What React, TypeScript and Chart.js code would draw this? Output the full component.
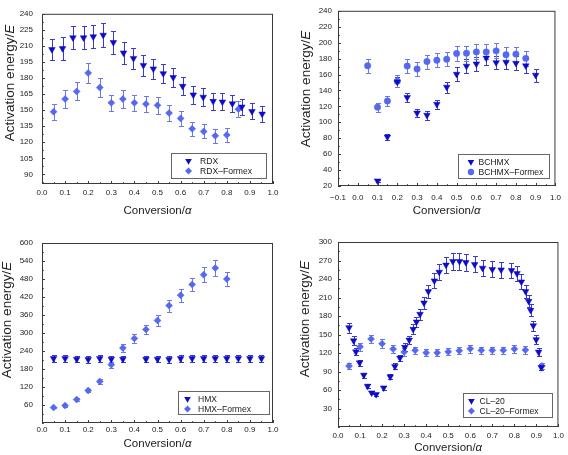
import React, { useEffect, useRef } from "react";
import { Chart, registerables } from "chart.js";
Chart.register(...registerables);

const FONT = '"Liberation Sans", Arial, Helvetica, sans-serif';

// ---------------- RDX ----------------
const rdxConv = [0.043, 0.089, 0.134, 0.18, 0.222, 0.265, 0.309, 0.353, 0.396, 0.439, 0.482, 0.525, 0.568, 0.609, 0.655, 0.698, 0.741, 0.781, 0.824, 0.865, 0.909, 0.953];
const rdxEnergy = [206.7, 207.6, 217.7, 217.7, 218.6, 220.1, 213.3, 203.5, 198.4, 191.9, 188.6, 184.2, 180.6, 172.3, 164.3, 162.2, 158.3, 157.7, 156.0, 153.0, 148.8, 146.4];
const rdxError = [10.2, 10.4, 11, 11, 11, 11.3, 10.7, 10.2, 9.9, 9.6, 9.4, 9.2, 9.0, 8.6, 8.2, 8.1, 7.9, 7.9, 7.8, 7.6, 7.5, 7.4];
const rdxFormexConv = [0.05, 0.1, 0.15, 0.2, 0.25, 0.3, 0.35, 0.4, 0.45, 0.5, 0.55, 0.6, 0.65, 0.7, 0.75, 0.8, 0.85];
const rdxFormexEnergy = [148.5, 160.4, 167.5, 184.8, 171.1, 156.8, 160.4, 156.8, 155.7, 154.5, 147.3, 142.3, 132.5, 130.1, 126.0, 126.8, 150.9];
const rdxFormexError = [7.6, 8.0, 8.4, 9.3, 8.6, 7.8, 8.0, 7.8, 7.8, 7.7, 7.4, 7.1, 6.6, 6.5, 6.3, 6.3, 7.5];
const rdxYTicks = [90, 105, 120, 135, 150, 165, 180, 195, 210, 225, 240];

// ---------------- BCHMX ----------------
const bchmxConv = [0.1, 0.15, 0.2, 0.25, 0.3, 0.35, 0.4, 0.45, 0.5, 0.55, 0.6, 0.65, 0.7, 0.75, 0.8, 0.85, 0.9];
const bchmxEnergy = [26.5, 81.7, 150.7, 131.2, 111.7, 108.9, 122.7, 144.2, 160.4, 170.6, 173.4, 180.7, 175.0, 175.5, 174.2, 171.0, 159.2];
const bchmxError = [1.5, 3.5, 6.5, 6.0, 5.0, 5.5, 5.7, 7.0, 8.5, 8.5, 8.6, 9.0, 8.7, 8.7, 8.7, 8.5, 8.0];
const bchmxFormexConv = [0.05, 0.1, 0.15, 0.2, 0.25, 0.3, 0.35, 0.4, 0.45, 0.5, 0.55, 0.6, 0.65, 0.7, 0.75, 0.8, 0.85];
const bchmxFormexEnergy = [171.0, 119.0, 126.7, 151.5, 170.6, 167.0, 176.3, 177.9, 179.1, 186.4, 186.8, 188.4, 188.4, 189.7, 184.8, 185.6, 180.3];
const bchmxFormexError = [8.5, 5.8, 6.3, 7.5, 8.5, 8.3, 8.8, 8.9, 9.0, 9.3, 9.3, 9.4, 9.4, 9.5, 9.2, 9.3, 9.0];
const bchmxXTicks = [-0.1, 0, 0.1, 0.2, 0.3, 0.4, 0.5, 0.6, 0.7, 0.8, 0.9, 1.0];
const bchmxYTicks = [20, 40, 60, 80, 100, 120, 140, 160, 180, 200, 220, 240];

// ---------------- HMX ----------------
const hmxConv = [0.05, 0.1, 0.15, 0.2, 0.25, 0.3, 0.35, 0.45, 0.5, 0.55, 0.6, 0.65, 0.7, 0.75, 0.8, 0.85, 0.9, 0.95];
const hmxEnergy = [215, 215, 213, 212, 215, 213, 213, 213, 213, 212, 215, 215, 215, 215, 215, 215, 215, 215];
const hmxError = [11, 11, 11, 11, 11, 11, 11, 11, 11, 11, 11, 11, 11, 11, 11, 11, 11, 11];
const hmxFormexConv = [0.05, 0.1, 0.15, 0.2, 0.25, 0.3, 0.35, 0.4, 0.45, 0.5, 0.55, 0.6, 0.65, 0.7, 0.75, 0.8];
const hmxFormexEnergy = [51.4, 58.0, 78.0, 108.5, 138.6, 194.5, 250.4, 281.8, 312.0, 342.0, 391.3, 426.0, 461.8, 494.0, 516.5, 479.7];
const hmxFormexError = [3, 3.5, 4, 5, 7, 10, 13, 15, 16, 18, 20, 21, 23, 25, 27, 24];
const hmxYTicks = [60, 120, 180, 240, 300, 360, 420, 480, 540, 600];

// ---------------- CL-20 ----------------
const cl20Conv = [0.05, 0.071, 0.081, 0.098, 0.117, 0.134, 0.153, 0.173, 0.207, 0.237, 0.258, 0.281, 0.303, 0.323, 0.341, 0.356, 0.372, 0.39, 0.41, 0.437, 0.459, 0.49, 0.521, 0.551, 0.58, 0.62, 0.656, 0.7, 0.74, 0.787, 0.812, 0.832, 0.851, 0.865, 0.874, 0.886, 0.899, 0.91, 0.922];
const cl20Energy = [161.2, 140.0, 122.0, 104.3, 84.2, 66.3, 55.5, 52.8, 63.6, 81.5, 98.3, 111.9, 129.3, 141.1, 158.5, 170.4, 182.9, 201.3, 219.7, 237.1, 251.2, 262.7, 268.6, 268.6, 267.0, 263.6, 257.7, 255.5, 254.9, 253.9, 249.0, 235.4, 219.7, 204.0, 189.4, 164.4, 141.7, 121.6, 96.7];
const cl20Error = [8, 7, 6, 5, 4, 3, 2.5, 2.5, 3, 4, 5, 5.5, 6.5, 7, 8, 8.5, 9, 10, 11, 12, 12.5, 13, 13.5, 13.5, 13.5, 13, 13, 13, 13, 12.5, 12.5, 12, 11, 10, 9.5, 8, 7, 6, 5];
const cl20FormexConv = [0.05, 0.1, 0.15, 0.2, 0.25, 0.3, 0.35, 0.4, 0.45, 0.5, 0.55, 0.6, 0.65, 0.7, 0.75, 0.8, 0.85, 0.925];
const cl20FormexEnergy = [98.9, 130.3, 142.8, 135.2, 126.5, 121.6, 124.3, 120.5, 120.5, 122.2, 123.8, 127.0, 124.3, 124.3, 124.3, 126.5, 124.9, 99.0];
const cl20FormexError = [5.5, 6.5, 7, 7, 6.5, 6, 6, 6, 6, 6, 6, 6.5, 6, 6, 6, 6.5, 6, 5];
const cl20YTicks = [30, 60, 90, 120, 150, 180, 210, 240, 270, 300];

const xTicks01 = [0, 0.1, 0.2, 0.3, 0.4, 0.5, 0.6, 0.7, 0.8, 0.9, 1.0];

// styles
const TRI_COLOR = "#0c0cc8";
const TRI_ERR = "#3a3ad0";
const FX_COLOR = "#5568f0";
const FX_ERR = "#6d78ee";

type Series = { label: string; xs: number[]; ys: number[]; errs: number[]; shape: "tri" | "diamond" | "circle" };

type Panel = {
  pos: { left: number; top: number; width: number; height: number };
  area: { l: number; r: number; t: number; b: number };
  xMin: number; xMax: number; yMin: number; yMax: number;
  xTicks: number[]; yTicks: number[]; xMinor: number; yMinor: number;
  series: Series[];
  xPad: number; yPad: number;
  xTitleY: number; yTitleX: number; yTitleY: number;
  legend: { w: number; h: number; right: number; bottom: number; mk: number; tx: number };
};

const panels: Panel[] = [
  {
    pos: { left: 0, top: 0, width: 284, height: 225 },
    area: { l: 42, r: 273, t: 5, b: 184 },
    xMin: 0, xMax: 1, yMin: 81, yMax: 240,
    xTicks: xTicks01, yTicks: rdxYTicks, xMinor: 0.05, yMinor: 7.5,
    series: [
      { label: "RDX", xs: rdxConv, ys: rdxEnergy, errs: rdxError, shape: "tri" },
      { label: "RDX\u2013Formex", xs: rdxFormexConv, ys: rdxFormexEnergy, errs: rdxFormexError, shape: "diamond" },
    ],
    xPad: 4, yPad: 9, xTitleY: 210.5, yTitleX: 10, yTitleY: 83,
    legend: { w: 95, h: 25, right: 7, bottom: 6, mk: 17.5, tx: 29 },
  },
  {
    pos: { left: 284, top: 0, width: 284, height: 225 },
    area: { l: 54, r: 276, t: 5, b: 186 },
    xMin: -0.1, xMax: 1, yMin: 20, yMax: 240,
    xTicks: bchmxXTicks, yTicks: bchmxYTicks, xMinor: 0.05, yMinor: 10,
    series: [
      { label: "BCHMX", xs: bchmxConv, ys: bchmxEnergy, errs: bchmxError, shape: "tri" },
      { label: "BCHMX\u2013Formex", xs: bchmxFormexConv, ys: bchmxFormexEnergy, errs: bchmxFormexError, shape: "circle" },
    ],
    xPad: 7, yPad: 6, xTitleY: 210.5, yTitleX: 22, yTitleY: 89,
    legend: { w: 91, h: 24, right: 6, bottom: 8, mk: 12.5, tx: 20 },
  },
  {
    pos: { left: 0, top: 225, width: 284, height: 230 },
    area: { l: 42, r: 273, t: 18, b: 198 },
    xMin: 0, xMax: 1, yMin: 0, yMax: 600,
    xTicks: xTicks01, yTicks: hmxYTicks, xMinor: 0.05, yMinor: 30,
    series: [
      { label: "HMX", xs: hmxConv, ys: hmxEnergy, errs: hmxError, shape: "tri" },
      { label: "HMX\u2013Formex", xs: hmxFormexConv, ys: hmxFormexEnergy, errs: hmxFormexError, shape: "diamond" },
    ],
    xPad: 2, yPad: 9, xTitleY: 219, yTitleX: 7, yTitleY: 95,
    legend: { w: 91, h: 23, right: 4, bottom: 9, mk: 9.5, tx: 20 },
  },
  {
    pos: { left: 284, top: 225, width: 284, height: 230 },
    area: { l: 54, r: 276, t: 17, b: 202 },
    xMin: 0, xMax: 1, yMin: 0, yMax: 300,
    xTicks: xTicks01, yTicks: cl20YTicks, xMinor: 0.05, yMinor: 15,
    series: [
      { label: "CL\u201320", xs: cl20Conv, ys: cl20Energy, errs: cl20Error, shape: "tri" },
      { label: "CL\u201320\u2013Formex", xs: cl20FormexConv, ys: cl20FormexEnergy, errs: cl20FormexError, shape: "diamond" },
    ],
    xPad: 4, yPad: 6, xTitleY: 222.5, yTitleX: 21, yTitleY: 94,
    legend: { w: 89, h: 24, right: 6, bottom: 10, mk: 8, tx: 16 },
  },
];

function drawMarker(ctx: CanvasRenderingContext2D, shape: string, x: number, y: number) {
  ctx.beginPath();
  if (shape === "tri") {
    const r = 3.8;
    ctx.moveTo(x - r * 0.87, y - r * 0.5);
    ctx.lineTo(x + r * 0.87, y - r * 0.5);
    ctx.lineTo(x, y + r);
    ctx.closePath();
    ctx.fillStyle = TRI_COLOR;
  } else if (shape === "circle") {
    ctx.arc(x, y, 3.2, 0, Math.PI * 2);
    ctx.fillStyle = FX_COLOR;
  } else {
    const r = 3.5;
    ctx.moveTo(x, y - r);
    ctx.lineTo(x + r, y);
    ctx.lineTo(x, y + r);
    ctx.lineTo(x - r, y);
    ctx.closePath();
    ctx.fillStyle = FX_COLOR;
  }
  ctx.fill();
}

function fmtX(v: number) {
  const s = Math.abs(v).toFixed(1);
  return v < -1e-9 ? "\u2212" + s : s;
}

function makePlugin(p: Panel) {
  return {
    id: "panelDecor",
    beforeDatasetsDraw(chart: any) {
      const ctx = chart.ctx as CanvasRenderingContext2D;
      const xs = chart.scales.x;
      const ys = chart.scales.y;
      chart.data.datasets.forEach((ds: any) => {
        ctx.save();
        ctx.strokeStyle = ds.errorColor;
        ctx.lineWidth = 1;
        ds.data.forEach((pt: any, i: number) => {
          const e = ds.errors[i];
          const px = Math.round(xs.getPixelForValue(pt.x)) + 0.5;
          const y1 = Math.round(ys.getPixelForValue(pt.y + e)) + 0.5;
          const y2 = Math.round(ys.getPixelForValue(pt.y - e)) + 0.5;
          ctx.beginPath();
          ctx.moveTo(px, y1);
          ctx.lineTo(px, y2);
          ctx.moveTo(px - 2.5, y1);
          ctx.lineTo(px + 2.5, y1);
          ctx.moveTo(px - 2.5, y2);
          ctx.lineTo(px + 2.5, y2);
          ctx.stroke();
        });
        ctx.restore();
      });
    },
    afterDraw(chart: any) {
      const ctx = chart.ctx as CanvasRenderingContext2D;
      const a = chart.chartArea;
      const xs = chart.scales.x;
      const ys = chart.scales.y;
      ctx.save();
      // frame
      ctx.strokeStyle = "#3a3a3a";
      ctx.lineWidth = 1;
      ctx.strokeRect(a.left + 0.5, a.top + 0.5, a.right - a.left - 1, a.bottom - a.top - 1);
      // ticks (inward)
      ctx.beginPath();
      const xStart = Math.ceil(p.xMin / p.xMinor - 1e-6);
      const xEnd = Math.floor(p.xMax / p.xMinor + 1e-6);
      for (let k = xStart; k <= xEnd; k++) {
        const v = k * p.xMinor;
        const major = p.xTicks.some((t) => Math.abs(t - v) < 1e-6);
        const px = Math.round(xs.getPixelForValue(v)) + 0.5;
        const len = major ? 3 : 1.8;
        ctx.moveTo(px, a.bottom);
        ctx.lineTo(px, a.bottom - len);
      }
      const yStart = Math.ceil(p.yMin / p.yMinor - 1e-6);
      const yEnd = Math.floor(p.yMax / p.yMinor + 1e-6);
      for (let k = yStart; k <= yEnd; k++) {
        const v = k * p.yMinor;
        const major = p.yTicks.some((t) => Math.abs(t - v) < 1e-6);
        const py = Math.round(ys.getPixelForValue(v)) + 0.5;
        const len = major ? 3 : 1.8;
        ctx.moveTo(a.left, py);
        ctx.lineTo(a.left + len, py);
      }
      ctx.stroke();

      // legend
      const L = p.legend;
      const bx = a.right - L.right - L.w;
      const by = a.bottom - L.bottom - L.h;
      ctx.fillStyle = "#fff";
      ctx.fillRect(bx, by, L.w, L.h);
      ctx.strokeStyle = "#666";
      ctx.strokeRect(Math.round(bx) + 0.5, Math.round(by) + 0.5, L.w, L.h);
      ctx.font = `8.6px ${FONT}`;
      ctx.textBaseline = "middle";
      ctx.textAlign = "left";
      p.series.forEach((s, i) => {
        const ry = by + 8 + i * 10;
        drawMarker(ctx, s.shape, bx + L.mk, ry);
        ctx.fillStyle = "#222";
        ctx.fillText(s.label, bx + L.tx, ry + 0.5);
      });

      // x title
      ctx.fillStyle = "#222";
      const cx = (a.left + a.right) / 2;
      ctx.font = `11.5px ${FONT}`;
      const t1 = "Conversion/";
      const w1 = ctx.measureText(t1).width;
      ctx.font = `italic 11.5px ${FONT}`;
      const w2 = ctx.measureText("\u03b1").width;
      const sx = cx - (w1 + w2) / 2;
      ctx.textAlign = "left";
      ctx.font = `11.5px ${FONT}`;
      ctx.fillText(t1, sx, p.xTitleY);
      ctx.font = `italic 11.5px ${FONT}`;
      ctx.fillText("\u03b1", sx + w1, p.xTitleY);

      // y title
      ctx.translate(p.yTitleX, p.yTitleY);
      ctx.rotate(-Math.PI / 2);
      ctx.font = `13.5px ${FONT}`;
      const y1 = "Activation energy/";
      const yw1 = ctx.measureText(y1).width;
      ctx.font = `italic 13.5px ${FONT}`;
      const yw2 = ctx.measureText("E").width;
      const ys0 = -(yw1 + yw2) / 2;
      ctx.font = `13.5px ${FONT}`;
      ctx.fillText(y1, ys0, 0);
      ctx.font = `italic 13.5px ${FONT}`;
      ctx.fillText("E", ys0 + yw1, 0);
      ctx.restore();
    },
  };
}

function PanelChart({ p }: { p: Panel }) {
  const ref = useRef<HTMLCanvasElement | null>(null);
  useEffect(() => {
    if (!ref.current) return;
    const H = p.pos.height;
    const W = p.pos.width;
    const datasets = p.series.map((s) => ({
      label: s.label,
      data: s.xs.map((x, i) => ({ x, y: s.ys[i] })),
      errors: s.errs,
      errorColor: s.shape === "tri" ? TRI_ERR : FX_ERR,
      showLine: false,
      pointStyle: s.shape === "tri" ? "triangle" : s.shape === "circle" ? "circle" : "rectRot",
      rotation: s.shape === "tri" ? 180 : 0,
      pointRadius: s.shape === "tri" ? 3.8 : s.shape === "circle" ? 3.2 : 3.5,
      pointBackgroundColor: s.shape === "tri" ? TRI_COLOR : FX_COLOR,
      pointBorderColor: s.shape === "tri" ? TRI_COLOR : FX_COLOR,
      pointBorderWidth: 0.5,
    }));
    const tickFont = { family: FONT, size: 8 };
    const chart = new Chart(ref.current, {
      type: "scatter",
      data: { datasets } as any,
      options: {
        animation: false,
        responsive: false,
        devicePixelRatio: 1,
        layout: { padding: { left: 0, top: p.area.t, right: W - p.area.r, bottom: 0 } },
        plugins: { legend: { display: false }, tooltip: { enabled: false } },
        scales: {
          x: {
            type: "linear",
            position: "bottom",
            min: p.xMin,
            max: p.xMax,
            grid: { display: false, drawTicks: false },
            border: { display: false },
            ticks: {
              font: tickFont,
              color: "#222",
              padding: p.xPad,
              maxRotation: 0,
              autoSkip: false,
              callback: (v: any) => fmtX(Number(v)),
            },
            afterBuildTicks: (s: any) => {
              s.ticks = p.xTicks.map((v) => ({ value: v }));
            },
            afterFit: (s: any) => {
              s.height = H - p.area.b;
            },
          },
          y: {
            type: "linear",
            min: p.yMin,
            max: p.yMax,
            grid: { display: false, drawTicks: false },
            border: { display: false },
            ticks: {
              font: tickFont,
              color: "#222",
              padding: p.yPad,
              autoSkip: false,
              callback: (v: any) => String(Math.round(Number(v))),
            },
            afterBuildTicks: (s: any) => {
              s.ticks = p.yTicks.map((v) => ({ value: v }));
            },
            afterFit: (s: any) => {
              s.width = p.area.l;
            },
          },
        },
      } as any,
      plugins: [makePlugin(p) as any],
    });
    return () => chart.destroy();
  }, [p]);
  return (
    <canvas
      ref={ref}
      width={p.pos.width}
      height={p.pos.height}
      style={{ position: "absolute", left: p.pos.left, top: p.pos.top, width: p.pos.width, height: p.pos.height }}
    />
  );
}

export default function App() {
  return (
    <div style={{ position: "absolute", left: 0, top: 0, width: 568, height: 455, background: "#fff" }}>
      {panels.map((p, i) => (
        <PanelChart key={i} p={p} />
      ))}
    </div>
  );
}
